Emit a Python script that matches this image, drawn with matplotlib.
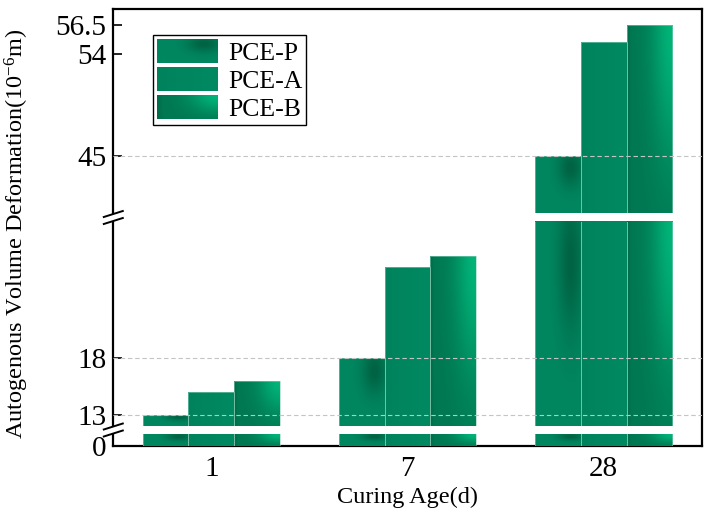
import numpy as np
import matplotlib
matplotlib.use("Agg")
import matplotlib.pyplot as plt
from matplotlib.lines import Line2D
from matplotlib.patches import Patch, Rectangle
from matplotlib.legend_handler import HandlerBase
from matplotlib.image import BboxImage
from matplotlib.transforms import Bbox, TransformedBbox

plt.rcParams['font.family'] = ['Liberation Serif', 'DejaVu Serif']
plt.rcParams['mathtext.fontset'] = 'custom'
plt.rcParams['mathtext.rm'] = 'Liberation Serif'
plt.rcParams['mathtext.it'] = 'Liberation Serif:italic'

# Datos
categorias = ['1', '7', '28']
series = ['PCE-P', 'PCE-A', 'PCE-B']
pce_p = [13, 18, 45]
pce_a = [15, 26, 55]
pce_b = [16, 27, 56.5]

# Tramos del eje Y partido (abajo -> arriba)
tramos = [(0, 1.05), (12, 30), (40, 57.9)]
ticks_tramos = [[0], [13, 18], [45, 54, 56.5]]
etiquetas_tramos = [['0'], ['13', '18'], ['45', '54', '56.5']]
niveles_rejilla = [13, 18, 45]

W, H = 710, 526


## Degradados de relleno para cada serie.
def degradado(tipo, n=60):
    u = np.linspace(0, 1, n)[np.newaxis, :]
    v = np.linspace(0, 1, n)[:, np.newaxis]
    base = np.array([0, 135, 96]) / 255
    if tipo == 0:
        oscuro = np.array([0, 95, 64]) / 255
        t = 0.9 * np.exp(-((u - 0.78) / 0.28) ** 2 - ((v - 0.8) / 0.35) ** 2)
        t = t[..., np.newaxis]
        return base * (1 - t) + oscuro * t
    elif tipo == 1:
        t = (0.97 + 0.05 * u + 0 * v)[..., np.newaxis]
        return np.clip(base * t, 0, 1)
    else:
        bajo = np.array([0, 120, 82]) / 255
        brillo = np.array([0, 180, 120]) / 255
        t = np.exp(-((u - 1.0) / 0.45) ** 2 - ((v - 1.0) / 0.7) ** 2)
        t = t[..., np.newaxis]
        img = bajo * (1 - t) + brillo * t
        img = img * (1 - 0.1 * np.exp(-(u / 0.06) ** 2))[..., np.newaxis]
        return img


imagenes = [degradado(i) for i in range(3)]


class ManejadorDegradado(HandlerBase):
    def __init__(self, img):
        super().__init__()
        self.img = img

    def create_artists(self, legend, orig_handle, xdescent, ydescent,
                       width, height, fontsize, trans):
        bb = TransformedBbox(Bbox.from_bounds(-xdescent, -ydescent, width, height), trans)
        im = BboxImage(bb, interpolation='bilinear', origin='lower')
        im.set_data(self.img)
        return [im]


fig = plt.figure(figsize=(W / 100, H / 100), dpi=100)

izq, der = 113.3 / W, 701.7 / W
# posiciones en píxeles (desde arriba) de cada tramo
px_tramos = [(434, 446), (221.7, 426), (9.3, 213.3)]

marco = fig.add_axes([izq, 1 - 446 / H, der - izq, (446 - 9.3) / H], zorder=0)
marco.set_xticks([])
marco.set_yticks([])
for s in marco.spines.values():
    s.set_linewidth(1.6)

x = np.arange(len(categorias))
ancho = 0.7 / 3
valores = [pce_p, pce_a, pce_b]

ejes = []
for k, (lim, (p_top, p_bot)) in enumerate(zip(tramos, px_tramos)):
    ax = fig.add_axes([izq, 1 - p_bot / H, der - izq, (p_bot - p_top) / H], zorder=1)
    ax.patch.set_alpha(0)
    for s in ax.spines.values():
        s.set_visible(False)
    for i in range(3):
        barras = ax.bar(x + (i - 1) * ancho, valores[i], width=ancho,
                        facecolor='none', edgecolor='#8fd0b8', linewidth=0.4, zorder=3)
        for b in barras:
            x0 = b.get_x()
            arriba = min(b.get_height(), lim[1])
            abajo = max(0, lim[0])
            if arriba <= abajo:
                continue
            im = ax.imshow(imagenes[i], extent=[x0, x0 + ancho, abajo, arriba],
                           origin='lower', aspect='auto', interpolation='bilinear', zorder=2)
            im.set_clip_path(b)
    for nivel in niveles_rejilla:
        if lim[0] < nivel < lim[1]:
            ax.axhline(nivel, color='#c4c4c4', linewidth=0.8, linestyle=(0, (4, 2.5)), zorder=4)
    ax.set_xlim(-0.5, 2.5)
    ax.set_ylim(*lim)
    ax.set_yticks(ticks_tramos[k])
    ax.set_yticklabels(etiquetas_tramos[k])
    ax.tick_params(axis='y', direction='in', length=6.5, width=1.2, labelsize=21, pad=5)
    if k == 0:
        ax.set_xticks(x)
        ax.set_xticklabels(categorias)
        ax.tick_params(axis='x', length=0, labelsize=21, pad=7)
    else:
        ax.set_xticks([])
    ejes.append(ax)

# Leyenda con degradados
proxies = [Patch(facecolor='#00875F') for _ in series]
ejes[2].legend(proxies, series, loc='upper left', bbox_to_anchor=(0.068, 0.874),
               borderaxespad=0, fontsize=18.5, handlelength=2.35, handleheight=1.05,
               labelspacing=0.1, borderpad=0.15, handletextpad=0.4,
               fancybox=False, edgecolor='black', framealpha=1,
               handler_map={p: ManejadorDegradado(imagenes[i]) for i, p in enumerate(proxies)})

# Marcas de corte sobre el eje izquierdo
for yc in [217.5, 430]:
    xs = 113.3
    fig.add_artist(Rectangle(((xs - 3) / W, 1 - (yc + 3.5) / H), 6 / W, 7 / H,
                             transform=fig.transFigure, facecolor='white',
                             edgecolor='none', zorder=5))
    for dy in [-3.5, 3.5]:
        fig.add_artist(Line2D([(xs - 9.5) / W, (xs + 9.5) / W],
                              [1 - (yc + dy + 3) / H, 1 - (yc + dy - 3) / H],
                              transform=fig.transFigure, color='black',
                              linewidth=1.4, zorder=6))

fig.text(17 / W, 1 - 234 / H, 'Autogenous Volume Deformation(10$^{-6}$m)',
         rotation=90, ha='center', va='center', fontsize=17.5)
fig.text(407.5 / W, 1 - 497 / H, 'Curing Age(d)', ha='center', va='center', fontsize=17.5)

fig.savefig('out.png', dpi=100)
